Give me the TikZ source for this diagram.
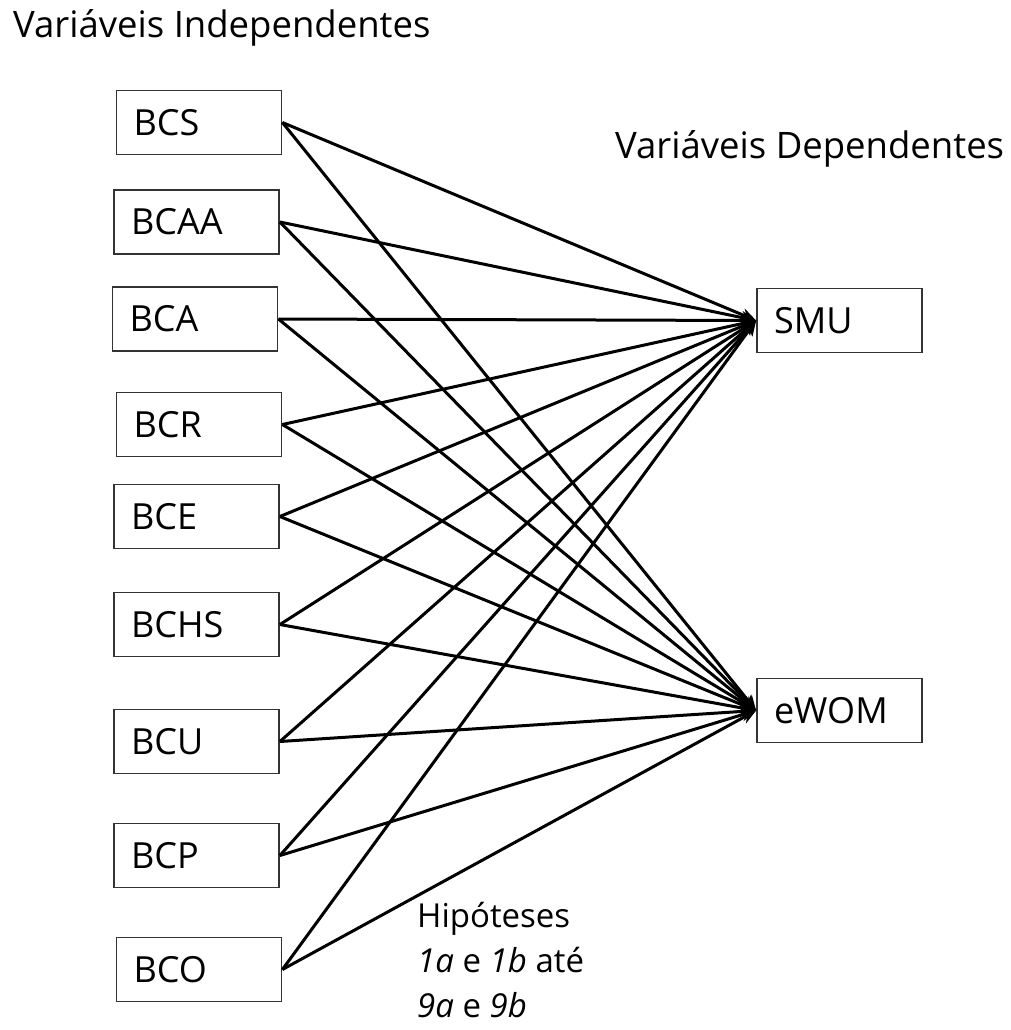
\documentclass[tikz,border=0pt]{standalone}
\usepackage{fontspec}
\setmainfont{Open Sans}
\usetikzlibrary{arrows.meta}
\begin{document}
\begin{tikzpicture}[x=1pt,y=-1pt,
  varbox/.style={draw=black!80, line width=1.8pt, minimum width=165pt, minimum height=64pt,
    text width=131pt, inner xsep=17pt, align=left, font=\fontsize{36}{40}\selectfont},
  link/.style={line width=3pt, -{Stealth[length=15pt,width=13pt]}},
  heading/.style={font=\fontsize{36.5}{40}\selectfont, inner sep=0pt}]
\useasboundingbox (0,0) rectangle (1011,1030);
\node[heading, anchor=base west] (ti) at (13,38) {Variáveis Independentes};
\node[heading, anchor=base west] (td) at (615,158) {Variáveis Dependentes};

\node[varbox] (bcs)  at (199,122.5) {BCS};
\node[varbox] (bcaa) at (196.5,222) {BCAA};
\node[varbox] (bca)  at (195,319) {BCA};
\node[varbox] (bcr)  at (199,424.5) {BCR};
\node[varbox] (bce)  at (196.5,516.5) {BCE};
\node[varbox] (bchs) at (196.5,624.5) {BCHS};
\node[varbox] (bcu)  at (196.5,741.5) {BCU};
\node[varbox] (bcp)  at (196.5,855.5) {BCP};
\node[varbox] (bco)  at (199,969.5) {BCO};

\node[varbox] (smu)  at (839.5,320.5) {SMU};
\node[varbox] (ewom) at (839.5,710.5) {eWOM};

\foreach \s in {bcs,bcaa,bca,bcr,bce,bchs,bcu,bcp,bco}{
  \draw[link] (\s.east) -- (smu.west);
  \draw[link] (\s.east) -- (ewom.west);
}

\node[anchor=base west, inner sep=0pt, align=left, font=\fontsize{33}{45}\selectfont] (hyp) at (417,1017)
  {Hipóteses\\\textit{1a} e \textit{1b} até\\\textit{9a} e \textit{9b}};
\end{tikzpicture}
\end{document}
